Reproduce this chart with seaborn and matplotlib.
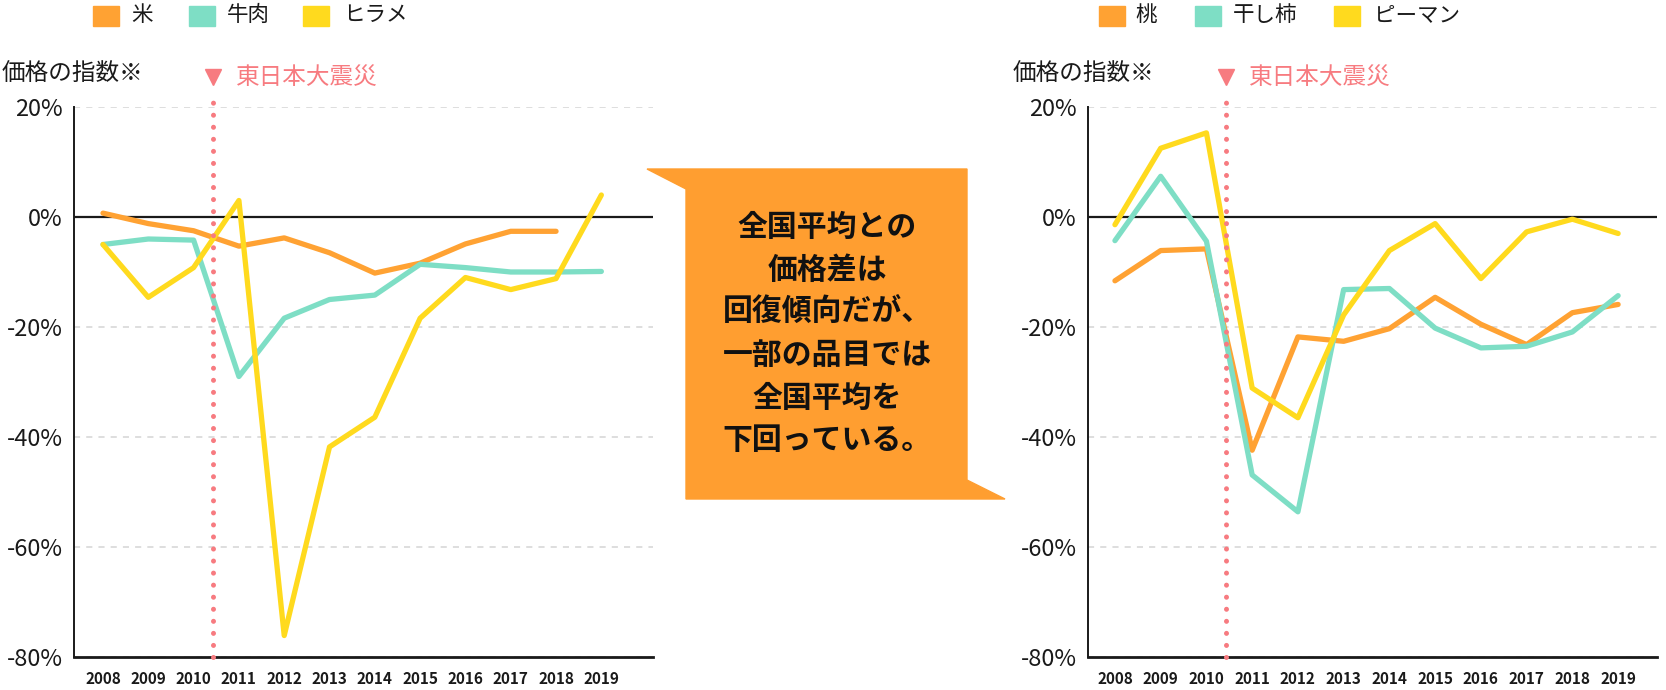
import matplotlib.pyplot as plt
import matplotlib.patches as mpatches
import numpy as np
import pandas as pd
import seaborn as sns

# data (price index vs national average, %)
years = list(range(2008, 2020))

left_items = ["米", "牛肉", "ヒラメ"]
rice = [0.7, -1.2, -2.5, -5.3, -3.8, -6.5, -10.2, -8.4, -4.9, -2.6, -2.6, np.nan]
beef = [-5.0, -4.0, -4.2, -29.0, -18.4, -15.0, -14.2, -8.6, -9.2, -10.0, -10.0, -9.9]
flounder = [-5.0, -14.6, -9.2, 3.0, -76.1, -41.8, -36.4, -18.4, -11.0, -13.2, -11.2, 4.0]

right_items = ["桃", "干し柿", "ピーマン"]
peach = [-11.6, -6.1, -5.8, -42.4, -21.8, -22.6, -20.3, -14.6, -19.5, -23.2, -17.4, -15.9]
persimmon = [-4.3, 7.4, -4.4, -46.9, -53.6, -13.2, -13.0, -20.2, -23.8, -23.5, -20.9, -14.3]
pepper = [-1.4, 12.5, 15.3, -31.1, -36.5, -17.8, -6.1, -1.2, -11.2, -2.7, -0.4, -3.0]

yticks = [20, 0, -20, -40, -60, -80]
ytick_labels = [f"{v}%" for v in yticks]
event_year = 2010.42
event_label = "東日本大震災"
ylabel = "価格の指数※"
callout_lines = ["全国平均との", "価格差は", "回復傾向だが、",
                 "一部の品目では", "全国平均を", "下回っている。"]

colors = ["#FFA233", "#7EDEC5", "#FFDA1E"]
pink = "#F77B80"
box_color = "#FF9E30"

sns.set_style("white")
plt.rcParams["font.family"] = ["Noto Sans CJK JP", "DejaVu Sans"]

W, H = 1666, 690
fig = plt.figure(figsize=(W / 100, H / 100), dpi=100)


def fx(x):
    return x / W


def fy(y):
    return 1 - y / H


def make_df(items, series):
    rows = []
    for name, vals in zip(items, series):
        for yr, v in zip(years, vals):
            rows.append({"year": yr, "value": v, "item": name})
    return pd.DataFrame(rows).dropna()


def draw_panel(ax, items, series, xlim):
    df = make_df(items, series)
    ax.axhline(0, color="#1a1a1a", lw=1.6, zorder=1)
    sns.lineplot(data=df, x="year", y="value", hue="item", hue_order=items,
                 palette=colors, lw=3.8, legend=False, errorbar=None,
                 ax=ax, zorder=3, solid_capstyle="round", solid_joinstyle="round")
    ax.set_xlim(*xlim)
    ax.set_ylim(-80, 20)
    ax.set_yticks(yticks)
    ax.set_yticklabels(ytick_labels, fontsize=17, color="#1a1a1a")
    ax.set_xticks(years)
    ax.set_xticklabels([str(y) for y in years], fontsize=11,
                       fontweight="bold", color="#1a1a1a")
    ax.tick_params(axis="y", length=0, pad=8)
    ax.tick_params(axis="x", length=0, pad=10)
    ax.set_xlabel("")
    ax.set_ylabel("")
    ax.grid(axis="y", ls=(0, (4, 4)), color="#d4d4d4", lw=1.1)
    ax.grid(axis="x", visible=False)
    for s in ["top", "right"]:
        ax.spines[s].set_visible(False)
    ax.spines["left"].set_linewidth(1.4)
    ax.spines["left"].set_color("#1a1a1a")
    ax.spines["bottom"].set_linewidth(2.0)
    ax.spines["bottom"].set_color("#1a1a1a")

    # earthquake marker
    ax.plot([event_year, event_year], [-80, 22.3], color=pink, lw=3.6,
            ls=(0, (0.01, 2.4)), dash_capstyle="round", clip_on=False, zorder=5)
    ax.plot([event_year], [25.4], marker="v", ms=12, color=pink,
            clip_on=False, zorder=5)
    ax.annotate(event_label, xy=(event_year, 25.4), xytext=(17, 0),
                textcoords="offset points", va="center", ha="left",
                fontsize=17, color=pink, annotation_clip=False)


ax1 = fig.add_axes([fx(74), fy(657), fx(653 - 74), (657 - 107) / H])
draw_panel(ax1, left_items, [rice, beef, flounder], (2007.36, 2020.14))

ax2 = fig.add_axes([fx(1087.5), fy(657), fx(1657 - 1087.5), (657 - 107) / H])
draw_panel(ax2, right_items, [peach, persimmon, pepper], (2007.40, 2019.85))

# y label text
fig.text(fx(2), fy(74), ylabel, fontsize=17, va="center", ha="left", color="#1a1a1a")
fig.text(fx(1013), fy(74), ylabel, fontsize=17, va="center", ha="left", color="#1a1a1a")

# legends
def draw_legend(items, sq_x, txt_x):
    for name, c, sx, tx in zip(items, colors, sq_x, txt_x):
        fig.add_artist(mpatches.Rectangle((fx(sx), fy(26)), fx(26), 20 / H,
                                          color=c, transform=fig.transFigure))
        fig.text(fx(tx), fy(15), name, fontsize=15.5, va="center", ha="left",
                 color="#1a1a1a")


draw_legend(left_items, [93, 189, 303], [131, 227, 343])
draw_legend(right_items, [1099, 1195, 1334], [1135, 1233, 1374])

# callout box
pts = [(647, 169), (967, 169), (967, 480), (1005, 499), (686, 499), (686, 189)]
fig.add_artist(mpatches.Polygon([(fx(x), fy(y)) for x, y in pts], closed=True,
                                color=box_color, transform=fig.transFigure))
for i, line in enumerate(callout_lines):
    fig.text(fx(827), fy(227 + i * 42.7), line, fontsize=21.5, fontweight="bold",
             ha="center", va="center", color="#111111")

fig.savefig("out.png", dpi=100)
